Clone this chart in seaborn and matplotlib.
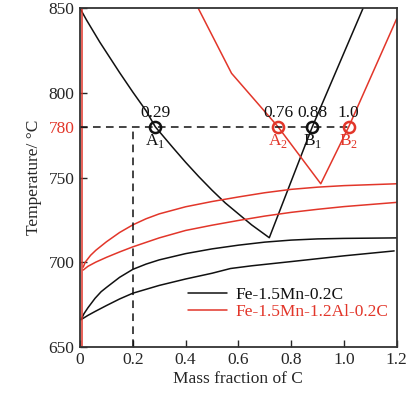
import matplotlib
matplotlib.use("Agg")
import matplotlib.pyplot as plt
import pandas as pd
import seaborn as sns

RED = "#e2362a"
BLACK = "#111111"

# black alloy: Fe-1.5Mn-0.2C
K_TOP_C = [0.0, 0.025, 0.05, 0.075, 0.1, 0.15, 0.2, 0.25, 0.285, 0.35, 0.4, 0.45,
           0.5, 0.55, 0.6, 0.65, 0.717, 0.88, 1.072]
K_TOP_T = [850, 843, 836.5, 830, 824, 812, 800.5, 789.5, 780, 768, 759, 750.5,
           742.5, 735, 728.5, 722, 714.4, 780, 850]
K_HI_C = [0.004, 0.015, 0.03, 0.057, 0.08, 0.1, 0.15, 0.2, 0.25, 0.3, 0.4, 0.5,
          0.6, 0.7, 0.8, 0.9, 1.0, 1.2]
K_HI_T = [666, 669.5, 673, 678.6, 682.5, 685, 691, 695.7, 698.8, 701.3, 705, 707.8,
          710, 711.8, 713, 713.7, 714, 714.3]
K_LO_C = [0.004, 0.03, 0.057, 0.1, 0.15, 0.2, 0.3, 0.4, 0.5, 0.57, 0.65, 0.8, 1.0, 1.19]
K_LO_T = [666, 668.5, 670.8, 674.3, 678.2, 681.6, 686.2, 690, 693.4, 696.2, 697.8,
          700.3, 703.7, 706.6]

# red alloy: Fe-1.5Mn-1.2Al-0.2C
R_TOP_C = [0.448, 0.574, 0.75, 0.912, 1.018, 1.2]
R_TOP_T = [850, 811.6, 780, 746.3, 780, 844]
R_HI_C = [0.012, 0.02, 0.04, 0.06, 0.1, 0.15, 0.2, 0.25, 0.3, 0.4, 0.5, 0.6, 0.7,
          0.8, 0.9, 1.0, 1.2]
R_HI_T = [697, 700, 704, 707, 712, 717.5, 722, 725.6, 728.5, 732.7, 735.8, 738.5,
          741, 743, 744.3, 745.2, 746.3]
R_LO_C = [0.012, 0.03, 0.06, 0.1, 0.15, 0.2, 0.3, 0.4, 0.5, 0.6, 0.7, 0.8, 0.9, 1.0, 1.2]
R_LO_T = [695.3, 697.5, 700, 702.8, 706, 709, 714.3, 718.7, 721.8, 724.6, 727.2,
          729.4, 731.2, 732.8, 735.3]
R_VERT_C = [0.008, 0.008]
R_VERT_T = [650, 850]

T_ISO = 780
C_CUT = 0.2
PT_C = [0.285, 0.75, 0.88, 1.018]
PT_VAL = ["0.29", "0.76", "0.88", "1.0"]
PT_NAME = [r"A$_\mathregular{1}$", r"A$_\mathregular{2}$", r"B$_\mathregular{1}$", r"B$_\mathregular{2}$"]
PT_COLOR = [BLACK, RED, BLACK, RED]

X_TICKS = [0, 0.2, 0.4, 0.6, 0.8, 1.0, 1.2]
X_LABELS = ["0", "0.2", "0.4", "0.6", "0.8", "1.0", "1.2"]
Y_TICKS = [650, 700, 750, 780, 800, 850]

FS = 12.5

sns.set_style("ticks")
plt.rcParams["font.family"] = ["Liberation Serif", "DejaVu Serif"]
plt.rcParams["mathtext.fontset"] = "custom"
plt.rcParams["mathtext.rm"] = "Liberation Serif"
plt.rcParams["font.size"] = FS

fig = plt.figure(figsize=(4.19, 3.98), dpi=100)
ax = fig.add_axes([0.191, 0.129, 0.756, 0.850])


def curve(c, t, color, label=None):
    df = pd.DataFrame({"C": c, "T": t})
    sns.lineplot(data=df, x="C", y="T", sort=False, estimator=None, color=color,
                 lw=1.1, ax=ax, label=label)


curve(K_TOP_C, K_TOP_T, BLACK, "Fe-1.5Mn-0.2C")
curve(K_HI_C, K_HI_T, BLACK)
curve(K_LO_C, K_LO_T, BLACK)
curve(R_TOP_C, R_TOP_T, RED, "Fe-1.5Mn-1.2Al-0.2C")
curve(R_HI_C, R_HI_T, RED)
curve(R_LO_C, R_LO_T, RED)
curve(R_VERT_C, R_VERT_T, RED)

ax.plot([0, PT_C[-1]], [T_ISO, T_ISO], color=BLACK, lw=1.1, ls=(0, (5, 3.5)))
ax.plot([C_CUT, C_CUT], [650, T_ISO], color=BLACK, lw=1.1, ls=(0, (5, 3.5)))

for c, val, name, col in zip(PT_C, PT_VAL, PT_NAME, PT_COLOR):
    ax.plot(c, T_ISO, marker="o", ms=8, mfc="none", mec=col, mew=1.8)
    ax.annotate(val, (c, T_ISO), xytext=(0, 4), textcoords="offset points",
                ha="center", va="bottom", color=BLACK, fontsize=FS)
    ax.annotate(name, (c, T_ISO), xytext=(0, -4), textcoords="offset points",
                ha="center", va="top", color=col, fontsize=FS)

ax.set_xlim(0, 1.2)
ax.set_ylim(650, 850)
ax.set_xticks(X_TICKS)
ax.set_xticklabels(X_LABELS)
ax.set_yticks(Y_TICKS)
for lbl in ax.get_yticklabels():
    if lbl.get_text() == "780":
        lbl.set_color(RED)
ax.tick_params(direction="in", length=5, width=1, labelsize=FS, pad=4)
ax.set_xlabel("Mass fraction of C", fontsize=FS, labelpad=2)
ax.set_ylabel("Temperature/ °C", fontsize=FS, labelpad=5)
for sp in ax.spines.values():
    sp.set_linewidth(1.3)
    sp.set_color("#333333")

leg = ax.legend(loc="center left", bbox_to_anchor=(0.315, 0.127), frameon=False,
                handlelength=2.2, handletextpad=0.5, borderpad=0, labelspacing=0.05,
                fontsize=FS)
for txt, col in zip(leg.get_texts(), [BLACK, RED]):
    txt.set_color(col)

fig.savefig("out.png", dpi=100)
